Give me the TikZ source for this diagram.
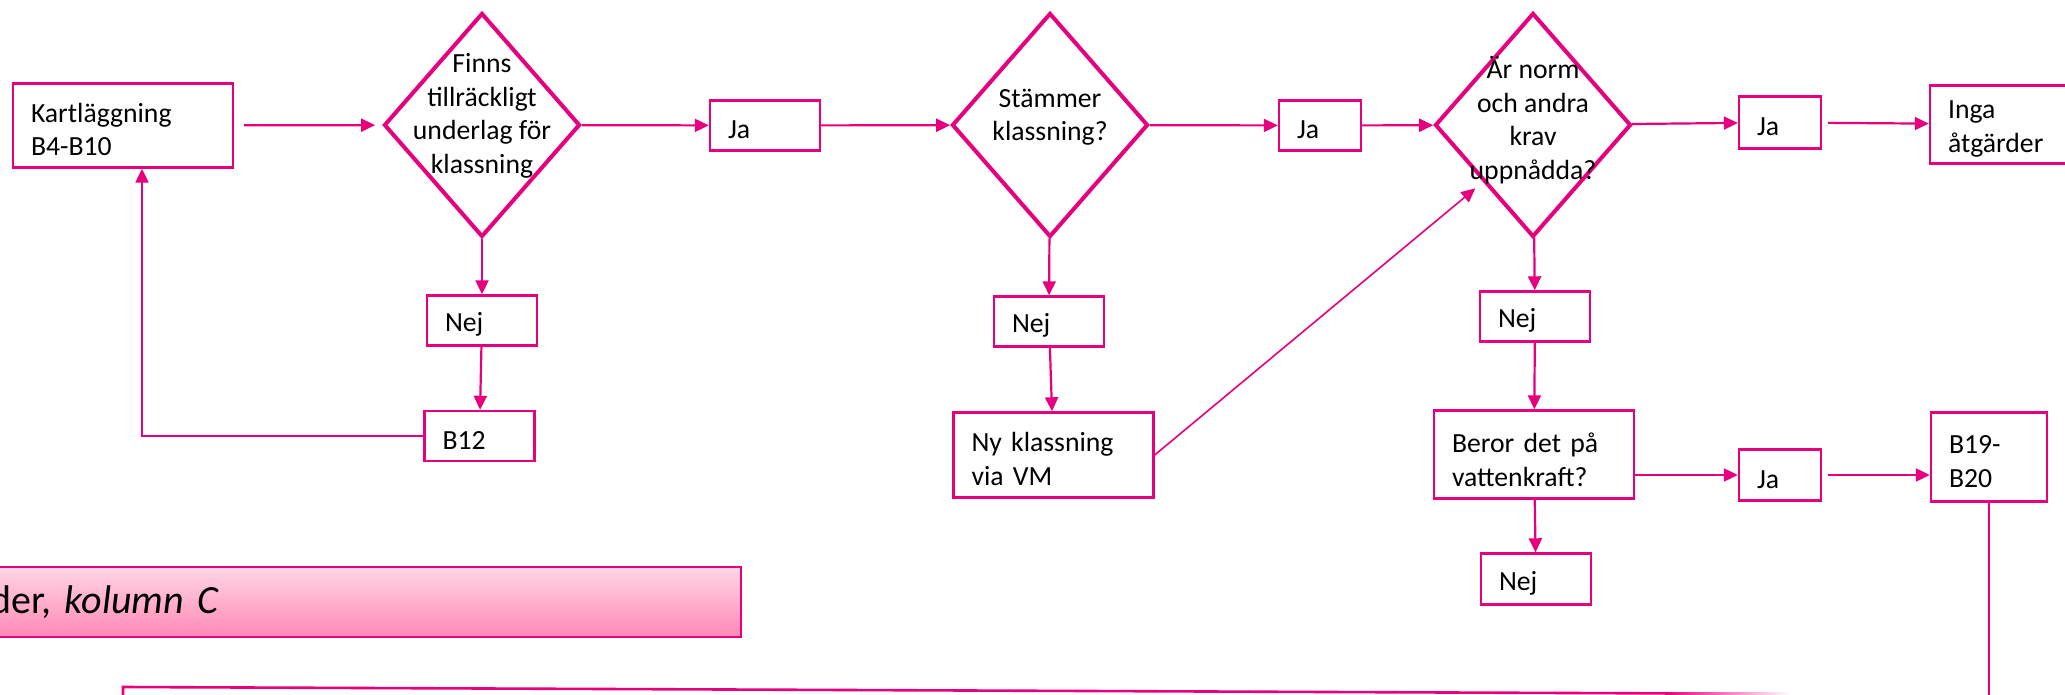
\documentclass[tikz,border=0pt]{standalone}
\usepackage{fontspec}
\setmainfont{Carlito}
\usetikzlibrary{shapes.geometric, arrows.meta}

\definecolor{mag}{HTML}{E6007E}
\definecolor{barTop}{RGB}{255,214,229}
\definecolor{barBottom}{RGB}{255,136,183}

\begin{document}
\begin{tikzpicture}[
        x=1pt,   % 1 px of the sheet = 1pt
        y=-1pt,  % y runs downwards, as in the sheet
        font=\fontsize{27.7}{33.5}\selectfont,
        box/.style={draw=mag, line width=2.4pt, rectangle, inner xsep=18pt, inner ysep=0pt, align=left, text width=#1,
                    execute at begin node=\rule{0pt}{27pt}},
        dia/.style={draw=mag, line width=4pt, diamond, minimum width=196pt, minimum height=224pt, inner sep=0pt},
        dtext/.style={align=center, inner sep=0pt},
        arr/.style={draw=mag, line width=2.2pt, -{Triangle[length=14pt, width=13pt]}},
        link/.style={draw=mag, line width=2.6pt},
    ]

    \useasboundingbox (0,0) rectangle (2065,695);

    % Decisions
    \node[dia, label={[dtext, yshift=9pt]center:Finns\\tillräckligt\\underlag för\\klassning}] (d1) at (482,125) {};
    \node[dia, label={[dtext, yshift=8pt]center:Stämmer\\klassning?}] (d2) at (1050,125) {};
    \node[dia, label={[dtext, yshift=5pt]center:Är norm\\och andra\\krav\\uppnådda?}] (d3) at (1533,125) {};

    % Top row boxes
    \node[box=184pt, minimum height=84pt, execute at begin node={}] (kart) at (123,125.5) {Kartläggning\\B4-B10};
    \node[box=74pt, minimum height=50pt] (ja1) at (765,125.5) {Ja};
    \node[box=46pt, minimum height=50pt] (ja2) at (1320,125.5) {Ja};
    \node[box=46pt, minimum height=52pt] (ja3) at (1780,122.5) {Ja};
    \node[box=200pt, minimum height=78pt] (inga) at (2048,124.5) {Inga\\åtgärder};

    % Branch under first decision
    \node[box=74pt, minimum height=50pt] (nej1) at (482,320.5) {Nej};
    \node[box=74pt, minimum height=50pt] (b12) at (479.5,436) {B12};

    % Branch under second decision
    \node[box=74pt, minimum height=50pt] (nej2) at (1049,321.5) {Nej};
    \node[box=164pt, minimum height=85pt, execute at begin node={}] (nyk) at (1053.5,455) {Ny klassning\\via VM};

    % Branch under third decision
    \node[box=74pt, minimum height=50pt] (nej3) at (1535,316.5) {Nej};
    \node[box=164pt, minimum height=88pt, execute at begin node=\rule{0pt}{30pt}] (beror) at (1534,454.5) {Beror det på\\vattenkraft?};
    \node[box=46pt, minimum height=51pt] (ja4) at (1780,475) {Ja};
    \node[box=80pt, minimum height=89pt] (b19) at (1989,457) {B19-\\B20};
    \node[box=74pt, minimum height=51pt] (nej4) at (1536,579) {Nej};

    % Column bar (cut by the left edge)
    \node[draw=mag, line width=2.2pt, top color=barTop, bottom color=barBottom, rectangle,
          inner xsep=9pt, inner ysep=0pt, text width=742pt, minimum height=70pt, align=left,
          font=\fontsize{40}{48}\selectfont, anchor=west] (kolC) at (-20,602) {der, \textit{kolumn C}};

    % Arrows along the top row
    \draw[arr, shorten <=10pt, shorten >=7pt] (kart) -- (d1);
    \draw[arr] (d1) -- (ja1);
    \draw[arr] (ja1) -- (d2);
    \draw[arr] (d2) -- (ja2);
    \draw[arr] (ja2) -- (d3);
    \draw[arr] (d3) -- (ja3);
    \draw[arr, shorten <=6pt] (ja3) -- (inga);

    % Arrows downwards
    \draw[arr] (d1) -- (nej1);
    \draw[arr] (nej1) -- (b12);
    \draw[arr] (b12.west) -| ([xshift=19pt]kart.south);
    \draw[arr] (d2) -- (nej2);
    \draw[arr] (nej2) -- (nyk);
    \draw[arr, line width=1.6pt, shorten >=10pt] (nyk.east) -- (d3.south west);
    \draw[arr] (d3) -- (nej3);
    \draw[arr] (nej3) -- (beror);
    \draw[arr] (beror) -- (nej4);
    \draw[arr] (beror.east |- ja4) -- (ja4);
    \draw[arr, shorten <=6pt] (ja4) -- (b19.west |- ja4);

    % Line out of B19-B20 to the box below
    \coordinate (b19end) at (1989,700);
    \draw[link] (b19.south) -- (b19.south |- b19end);

    % Top of the lower box (cut by the bottom edge)
    \draw[link] (123,697) -- (123,687) -- (1665,693.4);
    \shade[left color=mag, right color=white] (1665,692.1) rectangle (1790,694.9);

\end{tikzpicture}
\end{document}
